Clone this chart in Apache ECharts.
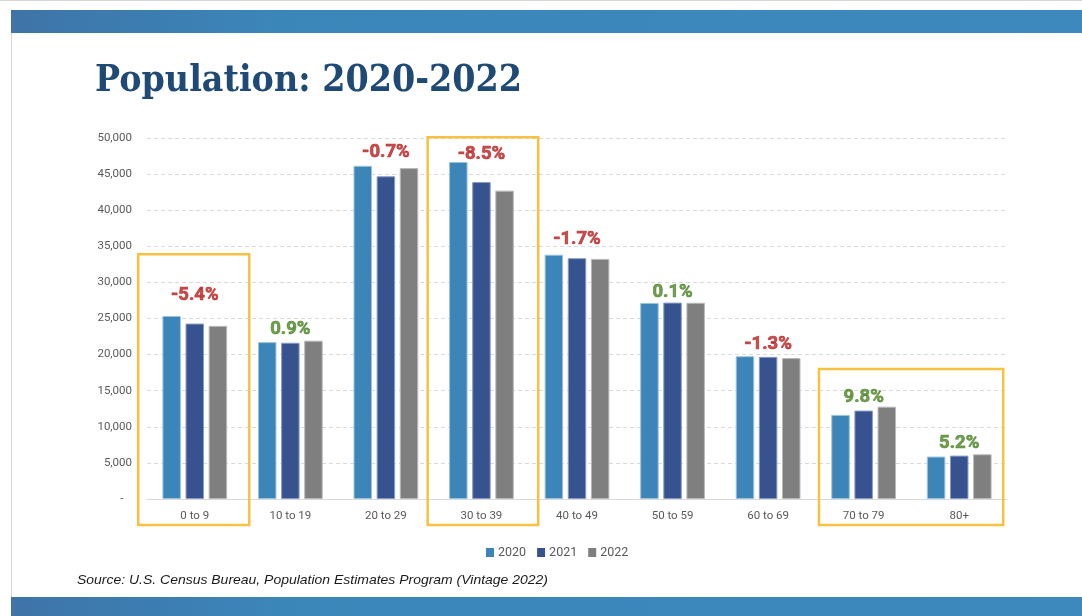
<!DOCTYPE html>
<html>
<head>
<meta charset="utf-8">
<script src="https://cdn.jsdelivr.net/npm/echarts@6/dist/echarts.min.js"></script>
<style>
html,body{margin:0;padding:0;background:#fff;}
#wrap{position:relative;width:1082px;height:616px;overflow:hidden;background:#fff;}
#topline{position:absolute;left:0;top:0;width:1082px;height:1px;background:#d6d6d6;}
#topband{position:absolute;left:11px;top:10px;width:1071px;height:23px;background:linear-gradient(90deg,#3e74a8 0%,#3b86b9 25%,#3d89bd 100%);}
#botband{position:absolute;left:11px;top:597px;width:1071px;height:19px;background:linear-gradient(90deg,#3e74a8 0%,#3b86b9 25%,#3d89bd 100%);}
#leftline{position:absolute;left:11px;top:33px;width:1px;height:564px;background:#d8d8d8;}
#chart{position:absolute;left:0;top:0;width:1082px;height:616px;}
.txt{position:absolute;white-space:nowrap;transform-origin:0 0;}
#title{left:95px;top:56px;font-family:"DejaVu Serif";font-weight:bold;font-size:37px;color:#1f4a75;line-height:44px;}
#source{left:77px;top:571px;font-family:"Liberation Sans";font-style:italic;font-size:13px;color:#1a1a1a;line-height:18px;}
</style>
</head>
<body>
<div id="wrap">
  <div id="topline"></div>
  <div id="topband"></div>
  <div id="leftline"></div>
  <div id="botband"></div>
  <div id="chart"></div>
  <div id="title" class="txt">Population: 2020-2022</div>
  <div id="source" class="txt">Source: U.S. Census Bureau, Population Estimates Program (Vintage 2022)</div>
</div>
<script>
// ---------- data ----------
const categories = ['0 to 9','10 to 19','20 to 29','30 to 39','40 to 49','50 to 59','60 to 69','70 to 79','80+'];
const seriesNames = ['2020','2021','2022'];
const pop2020 = [25350, 21730, 46150, 46680, 33830, 27150, 19780, 11650, 5880];
const pop2021 = [24300, 21640, 44700, 43900, 33360, 27200, 19690, 12250, 6010];
const pop2022 = [23980, 21930, 45830, 42710, 33250, 27180, 19520, 12790, 6190];
const changeLabels = ['-5.4%','0.9%','-0.7%','-8.5%','-1.7%','0.1%','-1.3%','9.8%','5.2%'];
const yMin = 0, yMax = 50000, yStep = 5000;

// ---------- styles ----------
const barColors = ['#3c85b9', '#37538f', '#7f7f7f'];
const barBorders = ['#9cc3df', '#8a9cc4', '#b9b9b9'];
const labelLift = [10, 1, 3, -3, 5, 0, 1, -1, 0];
const highlightBoxes = [
  {from: 0, to: 0, topVal: 33900, padL: 56.5, padR: 54.5},
  {from: 3, to: 3, topVal: 50100, padL: 53.8, padR: 56.8},
  {from: 7, to: 8, topVal: 18000, padL: 44.7, padR: 44}
];

function fit(id, w){
  const el = document.getElementById(id);
  const r = el.getBoundingClientRect();
  el.style.transform = 'scaleX(' + (w / r.width) + ')';
}
fit('title', 427);
fit('source', 471);

const chart = echarts.init(document.getElementById('chart'), null, {renderer: 'canvas'});
const allSeries = [pop2020, pop2021, pop2022];
const groupMax = categories.map((c, i) => Math.max(pop2020[i], pop2021[i], pop2022[i]));

const series = allSeries.map((arr, k) => ({
  name: seriesNames[k],
  type: 'bar',
  data: arr,
  barWidth: 18.5,
  barGap: '25%',
  itemStyle: {color: barColors[k], borderColor: barBorders[k], borderWidth: 1},
  emphasis: {disabled: true}
}));
series.push({
  name: 'change',
  type: 'scatter',
  symbolSize: 0,
  silent: true,
  z: 5,
  data: groupMax.map((v, i) => {
    const neg = changeLabels[i].startsWith('-');
    const col = neg ? '#b92323' : '#4f8429';
    return {
      value: v,
      label: {
        formatter: changeLabels[i],
        offset: [0, -labelLift[i]],
        color: col,
        textBorderColor: col,
        textBorderWidth: 0.7
      }
    };
  }),
  label: {
    show: true,
    position: 'top',
    distance: 1,
    fontFamily: 'Roboto',
    fontWeight: 'bold',
    fontSize: 18.5
  }
});

chart.setOption({
  animation: false,
  grid: {left: 147, right: 75, top: 138, bottom: 117, containLabel: false},
  legend: {
    data: seriesNames,
    left: 481, top: 541,
    icon: 'rect', itemWidth: 8, itemHeight: 9, itemGap: 11,
    itemStyle: {borderWidth: 0},
    textStyle: {color: '#595959', fontSize: 12.5, fontFamily: 'Roboto', padding: [0,0,0,-1]}
  },
  xAxis: {
    type: 'category',
    data: categories,
    axisTick: {show: false},
    axisLine: {lineStyle: {color: '#d9d9d9', width: 1}},
    axisLabel: {color: '#595959', fontSize: 11.5, fontFamily: 'Roboto', margin: 11}
  },
  yAxis: {
    type: 'value',
    min: yMin, max: yMax, interval: yStep,
    axisLine: {show: false},
    axisTick: {show: false},
    splitLine: {lineStyle: {color: '#d9d9d9', type: [4, 3], width: 1}},
    axisLabel: {
      color: '#595959', fontSize: 11.5, fontFamily: 'Roboto', margin: 15,
      formatter: v => v === 0 ? '-\u00a0\u00a0\u00a0' : v.toLocaleString('en-US')
    }
  },
  series: series
});

function drawBoxes(){
  const base = chart.convertToPixel({gridIndex: 0}, [0, 0])[1];
  const els = highlightBoxes.map(b => {
    const x1 = chart.convertToPixel({xAxisIndex: 0}, categories[b.from]) - b.padL;
    const x2 = chart.convertToPixel({xAxisIndex: 0}, categories[b.to]) + b.padR;
    const y1 = chart.convertToPixel({yAxisIndex: 0}, b.topVal);
    const y2 = base + 26;
    return {
      type: 'rect', silent: true, z: 10,
      shape: {x: x1, y: y1, width: x2 - x1, height: y2 - y1},
      style: {fill: 'none', stroke: '#f7c242', lineWidth: 2.5}
    };
  });
  chart.setOption({graphic: els});
}
drawBoxes();
</script>
</body>
</html>
